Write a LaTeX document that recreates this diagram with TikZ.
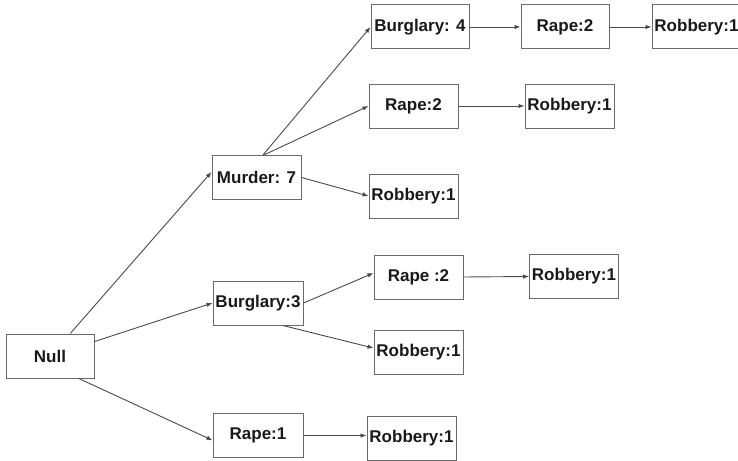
\documentclass[tikz,border=0pt]{standalone}
\usepackage{fontspec}
\setmainfont{Liberation Sans}
\usepackage{tikz}
\usetikzlibrary{positioning, arrows.meta}

\definecolor{boxline}{HTML}{6A6A6A}
\definecolor{edgeline}{HTML}{4A4A4A}

\tikzset{
    crime/.style = {draw = boxline, line width = 1pt, inner sep = 0pt,
        minimum width = 89pt, minimum height = 44pt,
        font = \fontsize{17}{20}\selectfont\bfseries, text = black!90},
    link/.style = {draw = edgeline, line width = .9pt,
        -{Latex[length = 6pt, width = 4.5pt]}}
}

\begin{document}
\begin{tikzpicture}[x = 1pt, y = -1pt]
        \useasboundingbox (0,0) rectangle (738,460);
        \node[crime, minimum width = 88pt] (null) at (50,356) {Null};
        \node[crime] (murder) at (256.5,177.5) {Murder: 7};
        \node[crime, minimum width = 90pt] (burg3) at (258,303) {Burglary:3};
        \node[crime, minimum width = 90pt] (rape1) at (258,435.5) {Rape:1};
        \node[crime, minimum width = 98pt] (burg4) at (420,27) {Burglary: 4};
        \node[crime, minimum width = 88pt] (rapeA) at (565,27) {Rape:2};
        \node[crime] (robA) at (696.5,27) {Robbery:1};
        \node[crime] (rapeB) at (413.5,106) {Rape:2};
        \node[crime] (robB) at (569.5,106) {Robbery:1};
        \node[crime] (robC) at (413.5,196) {Robbery:1};
        \node[crime] (rapeC) at (418.5,277) {Rape :2};
        \node[crime] (robD) at (574,276.5) {Robbery:1};
        \node[crime] (robE) at (418.5,352) {Robbery:1};
        \node[crime] (robF) at (411.5,438) {Robbery:1};
        \draw[link] (null.48) -- (murder.173);
        \draw[link] (null.18) -- (burg3.west);
        \draw[link] (null.-38) -- (rape1.186);
        \draw[link] (murder.74) -- (burg4.west);
        \draw[link] (murder.72) -- (rapeB.west);
        \draw[link] (murder.east) -- (robC.west);
        \draw[link] (burg4.east) -- (rapeA.west);
        \draw[link] (rapeA.east) -- (robA.west);
        \draw[link] (rapeB.east) -- (robB.west);
        \draw[link] (burg3.east) -- (rapeC.175);
        \draw[link] (burg3.-42) -- (robE.175);
        \draw[link] (rapeC.east) -- (robD.west);
        \draw[link] (rape1.east) -- (rape1.east -| robF.west);
    \end{tikzpicture}
\end{document}
